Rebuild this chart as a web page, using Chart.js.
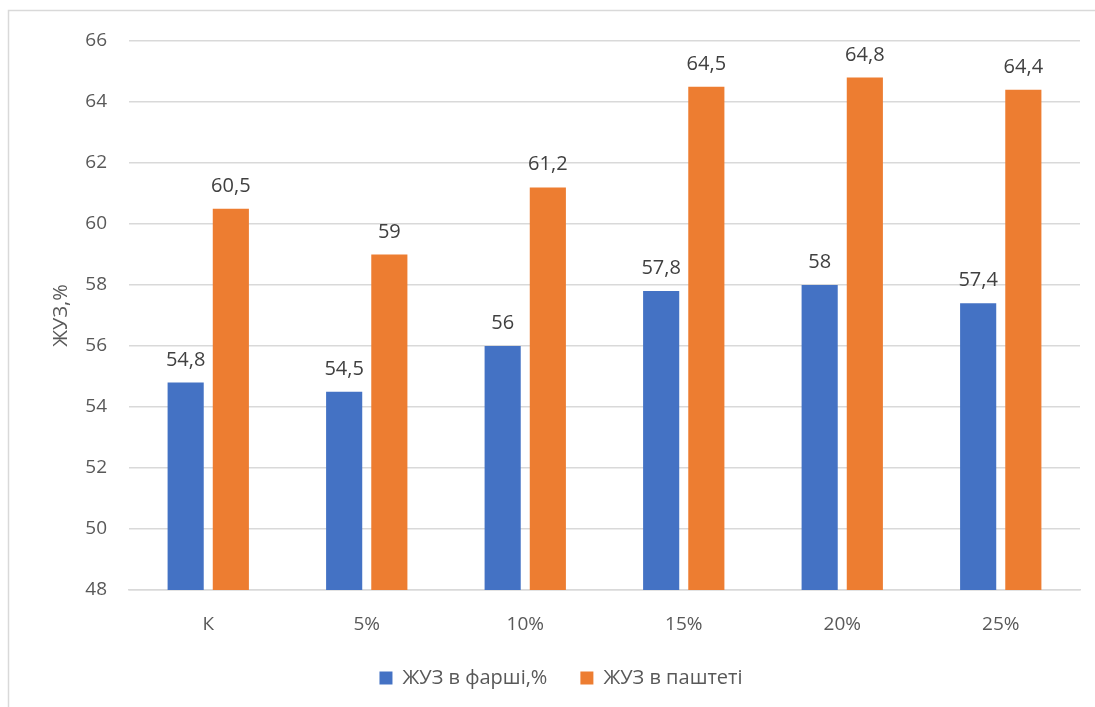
<!DOCTYPE html>
<html>
<head>
<meta charset="utf-8">
<script src="https://cdn.jsdelivr.net/npm/chart.js@4.4.1/dist/chart.umd.min.js"></script>
<style>
  html, body { margin: 0; padding: 0; background: #fff; }
  #wrap { width: 1095px; height: 707px; }
</style>
</head>
<body>
<div id="wrap"><canvas id="c" width="1095" height="707"></canvas></div>
<script>
// Categories and series values
const categories = ['К', '5%', '10%', '15%', '20%', '25%'];
const farshValues = [54.8, 54.5, 56, 57.8, 58, 57.4];
const pashtetValues = [60.5, 59, 61.2, 64.5, 64.8, 64.4];
const seriesNames = ['ЖУЗ в фарші,%', 'ЖУЗ в паштеті'];
const yTitle = 'ЖУЗ,%';

const FONT = '"Open Sans", "Noto Sans", sans-serif';

// Outer frame around the chart area
const framePlugin = {
  id: 'frame',
  beforeDraw(chart) {
    const ctx = chart.ctx;
    ctx.save();
    ctx.fillStyle = '#ffffff';
    ctx.fillRect(0, 0, chart.width, chart.height);
    ctx.strokeStyle = '#d9d9d9';
    ctx.lineWidth = 1.5;
    ctx.strokeRect(8.5, 10.5, chart.width + 10, chart.height + 10);
    ctx.restore();
  }
};

// Centre the legend on the whole frame rather than the padded box
const legendShift = {
  id: 'legendShift',
  afterLayout(chart) {
    if (chart.legend) {
      chart.legend.left += 8;
      chart.legend.right += 8;
    }
  }
};

// Value labels above every bar, decimal comma
const valueLabels = {
  id: 'valueLabels',
  afterDatasetsDraw(chart) {
    const ctx = chart.ctx;
    ctx.save();
    ctx.font = '20px ' + FONT;
    ctx.fillStyle = '#404040';
    ctx.textAlign = 'center';
    ctx.textBaseline = 'alphabetic';
    chart.data.datasets.forEach((ds, i) => {
      chart.getDatasetMeta(i).data.forEach((bar, j) => {
        const txt = String(ds.data[j]).replace('.', ',');
        ctx.fillText(txt, bar.x, bar.y - 17);
      });
    });
    ctx.restore();
  }
};

new Chart(document.getElementById('c'), {
  type: 'bar',
  data: {
    labels: categories,
    datasets: [
      { label: seriesNames[0], data: farshValues, backgroundColor: '#4472C4' },
      { label: seriesNames[1], data: pashtetValues, backgroundColor: '#ED7D31' }
    ]
  },
  options: {
    responsive: false,
    animation: false,
    devicePixelRatio: 1,
    layout: { padding: { left: 26, right: 15, top: 41, bottom: 9 } },
    datasets: { bar: { categoryPercentage: 0.57, barPercentage: 0.8 } },
    plugins: {
      legend: {
        position: 'bottom',
        labels: {
          font: { family: FONT, size: 20 },
          color: '#595959',
          boxWidth: 13,
          boxHeight: 13,
          padding: 33
        }
      },
      tooltip: { enabled: false }
    },
    scales: {
      x: {
        grid: { display: false, drawTicks: false },
        border: { color: '#d9d9d9', width: 1.5 },
        ticks: { font: { family: FONT, size: 19 }, color: '#595959', padding: 23 },
        afterFit(s) { s.height = 45; }
      },
      y: {
        min: 48, max: 66,
        ticks: { stepSize: 2, font: { family: FONT, size: 19 }, color: '#595959', padding: 22 },
        grid: { color: '#d9d9d9', lineWidth: 1.5, drawTicks: false },
        border: { display: false },
        title: { display: true, text: yTitle, font: { family: FONT, size: 20 }, color: '#595959', padding: { top: 23, bottom: 0 } },
        afterFit(s) { s.width = 103; }
      }
    }
  },
  plugins: [framePlugin, legendShift, valueLabels]
});
</script>
</body>
</html>
